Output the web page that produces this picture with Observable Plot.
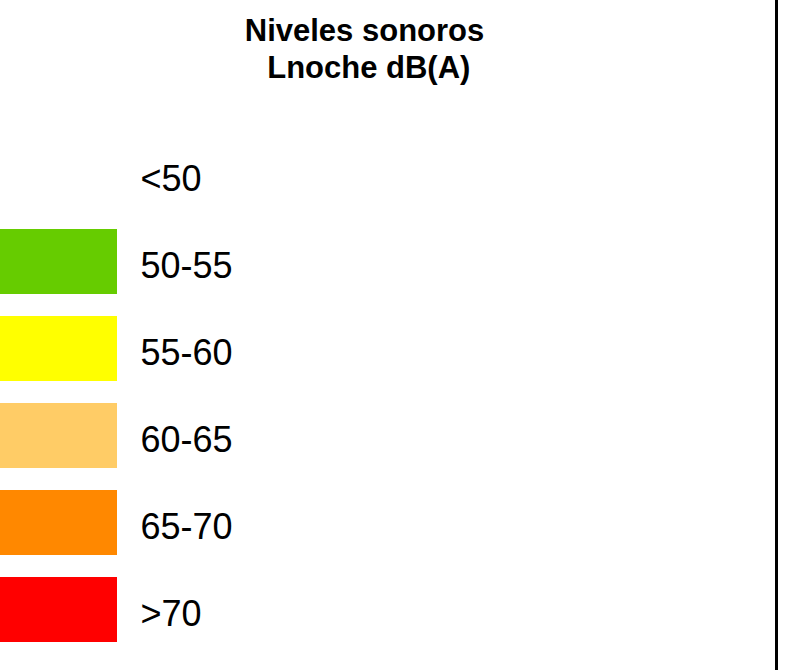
<!DOCTYPE html>
<html>
<head>
<meta charset="utf-8">
<script src="https://cdn.jsdelivr.net/npm/d3@7"></script>
<script src="https://cdn.jsdelivr.net/npm/@observablehq/plot@0.6"></script>
<style>
  html, body { margin: 0; padding: 0; background: white; }
  #chart svg { display: block; font-family: "Liberation Sans", Arial, sans-serif; }
</style>
</head>
<body>
<div id="chart"></div>
<script>
const titleLines = ["Niveles sonoros", " Lnoche dB(A)"];
const categories = ["<50", "50-55", "55-60", "60-65", "65-70", ">70"];
const colors = ["#ffffff", "#66cc00", "#ffff00", "#ffcc66", "#ff8800", "#ff0000"];

const data = categories.map((c, i) => ({label: c, color: colors[i]}));

const W = 809, H = 670;
const swatchW = 117;
const labelX = 140;
const dividerX = 776;

const chart = Plot.plot({
  width: W,
  height: H,
  margin: 0,
  x: {type: "linear", domain: [0, W], range: [0, W], axis: null},
  y: {type: "band", domain: categories, range: [142, 642], paddingInner: 22 / 87, paddingOuter: 0, round: false, axis: null},
  marks: [
    Plot.barX(data, {x1: 0, x2: swatchW, y: "label", fill: "color"}),
    Plot.text(data, {x: labelX, y: "label", text: "label", textAnchor: "start", fontSize: 36, fill: "black", dy: 4}),
    Plot.text([titleLines.join("\n")], {x: 364, frameAnchor: "top", lineAnchor: "top", text: d => d, fontSize: 31, fontWeight: "bold", fill: "black", lineHeight: 37 / 31, dy: 14}),
    Plot.ruleX([dividerX], {stroke: "black", strokeWidth: 3})
  ]
});
document.getElementById("chart").appendChild(chart);
</script>
</body>
</html>
